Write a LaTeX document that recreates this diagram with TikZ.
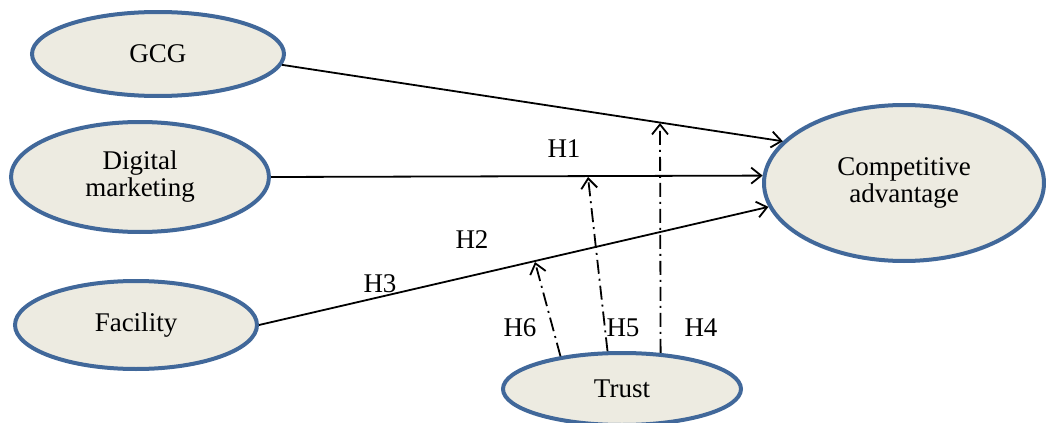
\documentclass[tikz,border=0pt]{standalone}
\usepackage{fontspec}
\setmainfont{Liberation Serif}
\usepackage{tikz}
\usetikzlibrary{arrows.meta,shapes.geometric}
\definecolor{ovalblue}{RGB}{65,104,154}
\definecolor{ovalfill}{RGB}{237,235,225}

\begin{document}
\begin{tikzpicture}[
    x = 0.5pt, y = -0.5pt,
    construct/.style = {ellipse, draw=ovalblue, line width=2pt, fill=ovalfill,
                        inner sep=0pt, align=center,
                        font=\fontsize{13.5}{13.5}\selectfont},
    effect/.style    = {-{Straight Barb[length=5pt,width=8pt]}, line width=0.9pt},
    moder/.style     = {-{Straight Barb[length=5pt,width=8pt]}, line width=0.9pt,
                        dash pattern=on 7pt off 2.5pt on 1pt off 2.5pt},
    hlabel/.style    = {font=\fontsize{13.5}{13.5}\selectfont}
]
\useasboundingbox (0,0) rectangle (1046,423);

\node[construct, minimum width=126pt, minimum height=42pt] (gcg)      at (158,54)  {GCG};
\node[construct, minimum width=129pt, minimum height=55pt] (digital)  at (140,177) {Digital\\marketing};
\node[construct, minimum width=121pt, minimum height=44pt] (facility) at (136,325) {Facility};
\node[construct, minimum width=140pt, minimum height=78pt] (compadv)  at (904,183) {Competitive\\advantage};
\node[construct, minimum width=119pt, minimum height=36pt] (trust)    at (622,389) {Trust};

% tips of the moderating arrows
\coordinate (h4tip) at (660,123);
\coordinate (h5tip) at (588,177);
\coordinate (h6tip) at (535,262);

\draw[effect] (gcg.-5)        -- (compadv.161);
\draw[effect] (digital.east)  -- (compadv.177);
\draw[effect] (facility.east) -- (compadv.190);

\draw[moder] (trust.43)  -- (h4tip);
\draw[moder] (trust.111) -- (h5tip);
\draw[moder] (trust.152) -- (h6tip);

\node[hlabel] (h1) at (564,149) {H1};
\node[hlabel] (h2) at (472,240) {H2};
\node[hlabel] (h3) at (380,284) {H3};
\node[hlabel] (h6) at (520,328) {H6};
\node[hlabel] (h5) at (623,328) {H5};
\node[hlabel] (h4) at (701,328) {H4};

\end{tikzpicture}
\end{document}
